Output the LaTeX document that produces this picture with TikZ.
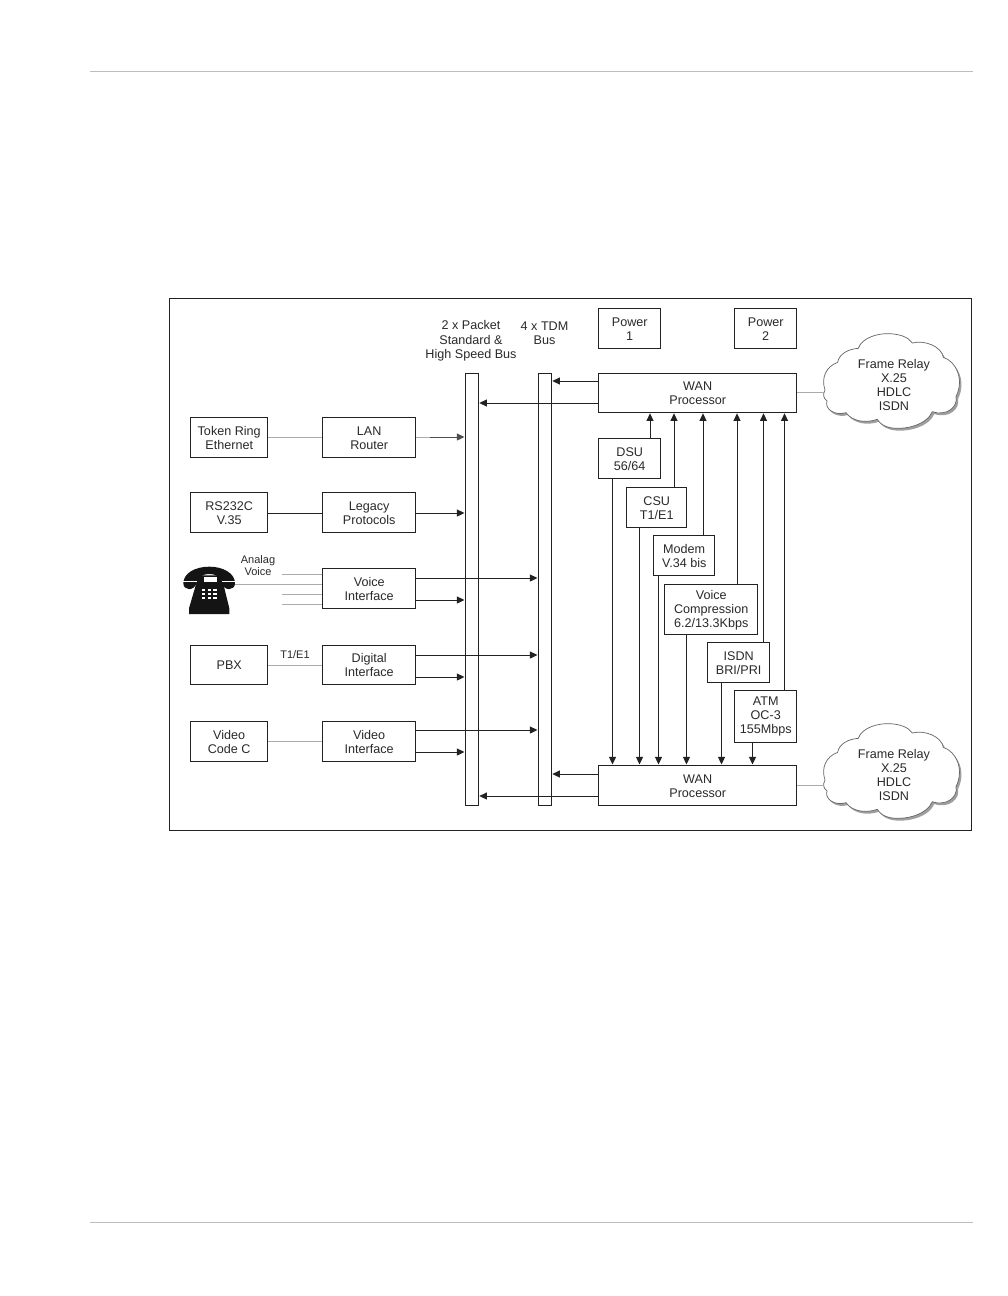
\documentclass[tikz,border=0pt]{standalone}
\usepackage{fontspec}
\setmainfont{Liberation Sans}
\usetikzlibrary{arrows.meta,calc}
\definecolor{ink}{HTML}{222222}
\definecolor{txt}{HTML}{2A2A2A}
\definecolor{lite}{HTML}{ABABAB}
\definecolor{rule}{HTML}{BDBDBD}
\tikzset{
  boxs/.style={draw=ink,line width=1pt,fill=white,inner sep=0pt,outer sep=0pt},
  boxt/.style={align=center,inner sep=0pt,text=txt,font=\fontsize{12.6}{14}\selectfont},
  lab/.style={align=center,inner sep=0pt,text=txt,font=\fontsize{12.6}{14.3}\selectfont},
  smalllab/.style={align=center,inner sep=0pt,text=txt,font=\fontsize{11}{12}\selectfont},
  arr/.style={draw=ink,line width=1pt,-{Triangle[length=7.5pt,width=7pt]},shorten >=0.6pt},
  lineonly/.style={draw=ink,line width=1pt},
  grayline/.style={draw=lite,line width=1pt},
}
\newcommand\mybox[6]{%
  \pgfmathsetmacro\bxw{#4-#2-0.25}\pgfmathsetmacro\bxh{#5-#3-0.25}%
  \node[boxs,minimum width=\bxw pt,minimum height=\bxh pt] (#1) at ({(#2+#4)/2-0.12},{(#3+#5)/2-0.12}) {};
  \node[boxt] (#1t) at ({(#2+#4)/2+0.2},{(#3+#5)/2+0.4}) {#6};}
\newcommand\mycloud[2]{%
  \begin{scope}[shift={(815,#1)},x=0.3333pt,y=-0.3333pt]
  \def\cloudpath{(30,195) .. controls (18,160) and (32,125) .. (68,112)
     .. controls (72,87) and (100,72) .. (130,70)
     .. controls (140,38) and (190,24) .. (225,26)
     .. controls (255,28) and (280,36) .. (292,54)
     .. controls (330,44) and (380,65) .. (385,97)
     .. controls (425,110) and (448,165) .. (423,215)
     .. controls (430,245) and (395,275) .. (352,260)
     .. controls (335,300) and (270,316) .. (225,308)
     .. controls (205,303) and (195,296) .. (187,283)
     .. controls (150,296) and (110,288) .. (93,263)
     .. controls (60,273) and (28,253) .. (36,228)
     .. controls (25,220) and (23,208) .. (30,195) -- cycle}
  \fill[gray!75,shift={(6,7)}] \cloudpath;
  \draw[draw=ink!70,line width=0.7pt,fill=white] \cloudpath;
  \end{scope}
  \node[boxt] (#2) at (894,{#1+60}) {Frame Relay\\X.25\\HDLC\\ISDN};}
\begin{document}
\begin{tikzpicture}[x=1pt,y=-1pt]
\useasboundingbox (0,0) rectangle (1008,1296);
% page rules
\coordinate (r1a) at (90,71); \coordinate (r1b) at (973,71);
\coordinate (r2a) at (90,1222); \coordinate (r2b) at (973,1222);
\draw[draw=rule,line width=0.9pt] (r1a) -- (r1b);
\draw[draw=rule,line width=0.9pt] (r2a) -- (r2b);
% frame
\mybox{frame}{169}{298}{972}{831}{}
% clouds
\mycloud{325}{cloudA}
\mycloud{715}{cloudB}
\coordinate (cA) at (824,392);
\coordinate (cB) at (824,785);
% buses
\mybox{busP}{465}{373}{479}{806}{}
\mybox{busT}{538}{373}{552}{806}{}
% labels
\node[lab] (lP) at (471,341) {2 x Packet\\Standard \&\\High Speed Bus};
\node[lab] (lT) at (544.5,333.5) {4 x TDM\\Bus};
% right column
\mybox{pwrA}{598}{308}{661}{349}{Power\\1}
\mybox{pwrB}{734}{308}{797}{349}{Power\\2}
\mybox{wanA}{598}{373}{797}{413}{WAN\\Processor}
\mybox{wanB}{598}{765}{797}{806}{WAN\\Processor}
\mybox{dsu}{598}{438}{661}{479}{DSU\\56/64}
\mybox{csu}{626}{487}{687}{528}{CSU\\T1/E1}
\mybox{modem}{653}{535}{715}{576}{Modem\\V.34 bis}
\mybox{vcomp}{664}{584}{758}{635}{Voice\\Compression\\6.2/13.3Kbps}
\mybox{isdn}{707}{642}{770}{683}{ISDN\\BRI/PRI}
\mybox{atm}{734}{690}{797}{743}{ATM\\OC-3\\155Mbps}
% left columns
\mybox{token}{190}{417}{268}{458}{Token Ring\\Ethernet}
\mybox{lan}{322}{417}{416}{458}{LAN\\Router}
\mybox{rs}{190}{492}{268}{533}{RS232C\\V.35}
\mybox{legacy}{322}{492}{416}{533}{Legacy\\Protocols}
\mybox{voice}{322}{568}{416}{609}{Voice\\Interface}
\mybox{pbx}{190}{645}{268}{685}{PBX}
\mybox{digital}{322}{645}{416}{685}{Digital\\Interface}
\mybox{vcode}{190}{721}{268}{762}{Video\\Code C}
\mybox{video}{322}{721}{416}{762}{Video\\Interface}
% phone
\begin{scope}[shift={(170,540)},x=0.3333pt,y=-0.3333pt]
\fill[black!92] (40,130) .. controls (40,100) and (75,80) .. (118,80)
  .. controls (160,80) and (195,100) .. (195,130)
  .. controls (195,152) and (162,155) .. (155,128)
  .. controls (148,108) and (135,102) .. (118,102)
  .. controls (100,102) and (88,108) .. (80,128)
  .. controls (73,155) and (40,152) .. (40,130) -- cycle;
\fill[black!92] (85,106) -- (155,106) -- (162,140) -- (178,205) -- (178,222) -- (57,222) -- (57,205) -- (76,140) -- cycle;
\fill[white] (102,110) rectangle (140,125);
\foreach \px in {95,113,130}{\foreach \py in {146,159,172}{\fill[white] (\px,\py) rectangle ++(11,6);}}
\draw[white,line width=0.4pt] (40,124) -- (80,124);
\draw[white,line width=0.4pt] (155,124) -- (195,124);
\end{scope}
\coordinate (phone) at (235,584);
\coordinate (va) at (282,574);
\coordinate (vb) at (282,594);
\coordinate (vc) at (282,604);
\draw[grayline] (va) -- (voice.west |- va);
\draw[grayline] (phone) -- (voice.west |- phone);
\draw[grayline] (vb) -- (voice.west |- vb);
\draw[grayline] (vc) -- (voice.west |- vc);
\node[smalllab] (lAV) at (258,566) {Analag\\Voice};
\node[lab,font=\fontsize{11}{12}\selectfont] (lTE) at (295,655) {T1/E1};
% left-side connections
\draw[grayline] (token.east |- 0,437) -- (lan.west |- 0,437);
\draw[lineonly] (rs.east |- 0,513) -- (legacy.west |- 0,513);
\draw[grayline] (pbx.east |- 0,665) -- (digital.west |- 0,665);
\draw[grayline] (vcode.east |- 0,741) -- (video.west |- 0,741);
% to buses
\draw[arr,draw=ink!80,fill=ink] (lan.east |- 0,437) -- (busP.west |- 0,437);
\draw[grayline] (lan.east |- 0,437) -- +(14,0);
\draw[arr] (legacy.east |- 0,513) -- (busP.west |- 0,513);
\draw[arr] (voice.east |- 0,578) -- (busT.west |- 0,578);
\draw[arr] (voice.east |- 0,600) -- (busP.west |- 0,600);
\draw[arr] (digital.east |- 0,655) -- (busT.west |- 0,655);
\draw[arr] (digital.east |- 0,677) -- (busP.west |- 0,677);
\draw[arr] (video.east |- 0,730) -- (busT.west |- 0,730);
\draw[arr] (video.east |- 0,752) -- (busP.west |- 0,752);
\draw[arr] (wanA.west |- 0,381) -- (busT.east |- 0,381);
\draw[arr] (wanA.west |- 0,403) -- (busP.east |- 0,403);
\draw[arr] (wanB.west |- 0,774) -- (busT.east |- 0,774);
\draw[arr] (wanB.west |- 0,796) -- (busP.east |- 0,796);
% WAN to clouds
\draw[grayline] (wanA.east |- cA) -- (cA);
\draw[grayline] (wanB.east |- cB) -- (cB);
% up arrows
\draw[arr] (dsu.north -| 650,0) -- (wanA.south -| 650,0);
\draw[arr] (csu.north -| 674,0) -- (wanA.south -| 674,0);
\draw[arr] (modem.north -| 703,0) -- (wanA.south -| 703,0);
\draw[arr] (vcomp.north -| 737,0) -- (wanA.south -| 737,0);
\draw[arr] (isdn.north -| 763.5,0) -- (wanA.south -| 763.5,0);
\draw[arr] (atm.north -| 784.5,0) -- (wanA.south -| 784.5,0);
% down arrows
\draw[arr] (dsu.south -| 612.5,0) -- (wanB.north -| 612.5,0);
\draw[arr] (csu.south -| 639.5,0) -- (wanB.north -| 639.5,0);
\draw[arr] (modem.south -| 658.5,0) -- (wanB.north -| 658.5,0);
\draw[arr] (vcomp.south -| 686.5,0) -- (wanB.north -| 686.5,0);
\draw[arr] (isdn.south -| 721.5,0) -- (wanB.north -| 721.5,0);
\draw[arr] (atm.south -| 752.5,0) -- (wanB.north -| 752.5,0);
\end{tikzpicture}
\end{document}
